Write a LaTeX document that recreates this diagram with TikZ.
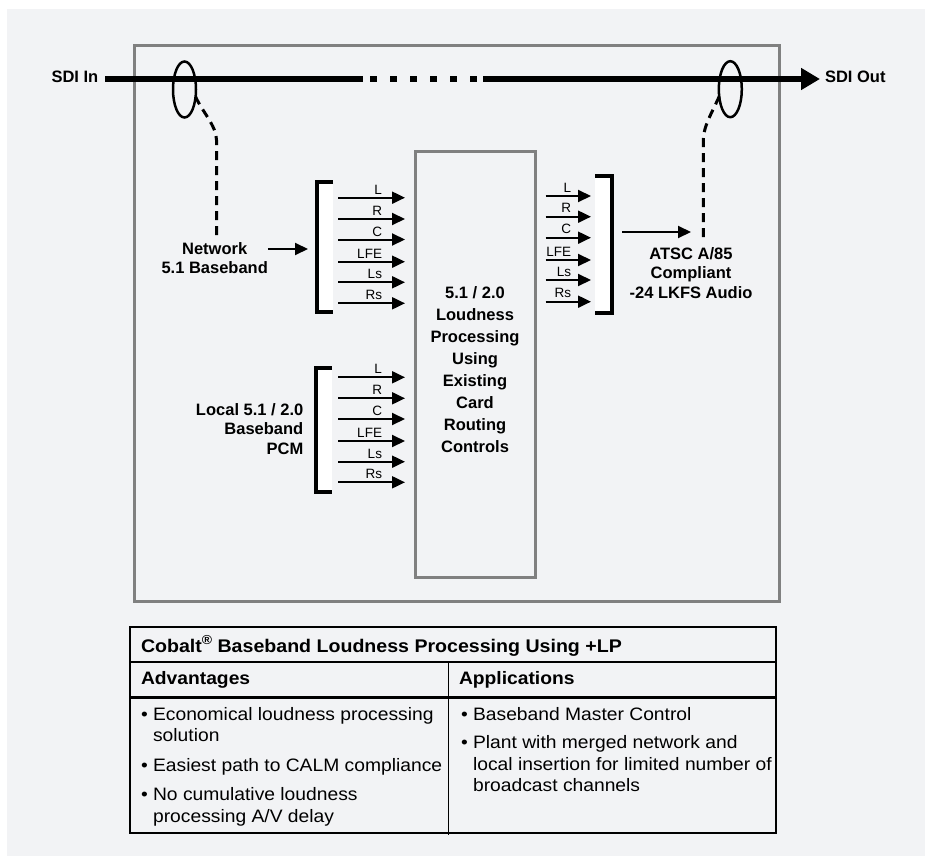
\documentclass[tikz,border=0pt]{standalone}
\usepackage{fontspec}
\setmainfont{Liberation Sans}
\newfontfamily\tblfont[FakeStretch=1.07]{Liberation Sans}
\usetikzlibrary{arrows.meta,shapes.geometric,calc}
\definecolor{bg}{RGB}{242,243,245}
\definecolor{boxgray}{RGB}{128,128,128}
\begin{document}
\begin{tikzpicture}[x=1pt,y=-1pt,
  lbl/.style={font=\fontsize{16.5}{19.5}\selectfont\bfseries, inner sep=0pt, outer sep=0pt},
  chlbl/.style={font=\fontsize{13.5}{14}\selectfont, inner sep=0pt, outer sep=0pt, anchor=base east},
  charrow/.style={line width=2pt, -{Triangle[length=13pt,width=12pt]}},
  bracketline/.style={line width=4pt},
  bracketfill/.style={fill=white, inner sep=0pt, outer sep=0pt, anchor=north west},
  sdiline/.style={line width=6pt},
  dashconn/.style={line width=3pt, dash pattern=on 9pt off 6pt},
  tap/.style={ellipse, draw, line width=2.5pt, minimum width=23pt, minimum height=56pt, inner sep=0pt, outer sep=0pt},
  grayframe/.style={draw=boxgray, line width=3pt, inner sep=0pt, outer sep=0pt, anchor=north west},
  tbltext/.style={font=\tblfont\fontsize{18}{21.5}\selectfont, inner sep=0pt, outer sep=0pt, align=left, anchor=north west},
  tblhead/.style={font=\tblfont\fontsize{18}{21.5}\selectfont\bfseries, inner sep=0pt, outer sep=0pt, anchor=base west},
  tblrule/.style={line width=1.3pt},
]
\useasboundingbox (0,0) rectangle (925,856);
\fill[bg] (7,9) rectangle (925,856);

% frames
\node[grayframe, minimum width=645pt, minimum height=556pt] (card) at (134.7,45.3) {};
\node[grayframe, minimum width=120pt, minimum height=426pt] (proc) at (415.5,151) {};
\node[lbl, align=center, anchor=north, font=\fontsize{16.5}{22}\selectfont\bfseries] (proctxt) at (475,284)
  {\rule{0pt}{14pt}5.1 / 2.0\\Loudness\\Processing\\Using\\Existing\\Card\\Routing\\Controls};

% SDI line
\node[lbl, anchor=base east] (sdiin) at (98.3,83) {SDI In};
\node[lbl, anchor=base west] (sdiout) at (825,83) {SDI Out};
\coordinate (sdiA) at ($(sdiin.east|-0,79)+(7,0)$);
\coordinate (sdiB) at (363,79);
\coordinate (sdiC) at (370,79);
\coordinate (sdiD) at (477,79);
\coordinate (sdiE) at (483,79);
\coordinate (sdiF) at ($(sdiout.west|-0,79)+(-5,0)$);
\draw[sdiline] (sdiA) -- (sdiB);
\draw[sdiline, dash pattern=on 7pt off 13pt] (sdiC) -- (sdiD);
\draw[sdiline, -{Triangle[length=19pt,width=21pt]}] (sdiE) -- (sdiF);
\node[tap] (tapL) at (184.5,89.5) {};
\node[tap] (tapR) at (730.3,89.2) {};

% labels
\node[lbl, align=center, anchor=north] (netlbl) at (214.7,240) {\rule{0pt}{14pt}Network\\5.1 Baseband};
\node[lbl, align=center, anchor=north] (atsc) at (691,245) {\rule{0pt}{14pt}ATSC A/85\\Compliant\\-24 LKFS Audio};
\node[lbl, align=right, anchor=north east] (loclbl) at (303.3,401) {\rule{0pt}{14pt}Local 5.1 / 2.0\\Baseband\\PCM};

% brackets
\node[bracketfill, minimum width=16pt, minimum height=130pt] (netbr) at (317,182) {};
\draw[bracketline] (netbr.north east) -- (netbr.north west) -- (netbr.south west) -- (netbr.south east);
\node[bracketfill, minimum width=16pt, minimum height=124pt] (locbr) at (316,368) {};
\draw[bracketline] (locbr.north east) -- (locbr.north west) -- (locbr.south west) -- (locbr.south east);
\node[bracketfill, minimum width=16.5pt, minimum height=137pt] (outbr) at (595,176) {};
\draw[bracketline] (outbr.north west) -- (outbr.north east) -- (outbr.south east) -- (outbr.south west);

% channel arrows
\foreach \y/\t in {197.7/L,219/R,239.5/C,261.7/LFE,282.3/Ls,303.3/Rs}{
  \draw[charrow] ($(netbr.east|-0,\y)+(5,0)$) -- ($(proc.west|-0,\y)+(-10.5,0)$);
  \node[chlbl] (net\t) at ($(netbr.east|-0,\y)+(49,-3.5)$) {\t};
}
\foreach \y/\t in {377.3/L,398.3/R,419/C,441/LFE,461.7/Ls,482.3/Rs}{
  \draw[charrow] ($(locbr.east|-0,\y)+(6,0)$) -- ($(proc.west|-0,\y)+(-10.5,0)$);
  \node[chlbl] (loc\t) at ($(locbr.east|-0,\y)+(50,-3.5)$) {\t};
}
\foreach \y/\t in {196/L,216.7/R,237.7/C,260/LFE,280/Ls,301.7/Rs}{
  \draw[charrow] ($(proc.east|-0,\y)+(10,0)$) -- ($(outbr.west|-0,\y)+(-4,0)$);
  \node[chlbl] (out\t) at ($(proc.east|-0,\y)+(35.7,-4)$) {\t};
}

% single arrows
\draw[charrow] (netlbl.east|-0,249) -- ($(netbr.west|-0,249)+(-9,0)$);
\draw[charrow] ($(outbr.east|-0,232)+(10.5,0)$) -- (atsc.north|-0,232);

% dashed connectors
\draw[dashconn] ($(netlbl.north)+(1.8,-5)$) -- ++(0,-95) .. controls ++(0,-14) and ($(tapL.-33)+(6,14)$) .. (tapL.-33);
\draw[dashconn] ($(atsc.north)+(12.3,-8)$) -- ++(0,-97) .. controls ++(0,-14) and ($(tapR.-147)+(-6,14)$) .. (tapR.-147);

% table
\node[draw, tblrule, minimum width=646pt, minimum height=206pt, inner sep=0pt, outer sep=0pt, anchor=north west] (tbl) at (130,627) {};
\draw[tblrule] (tbl.west|-0,662) -- (tbl.east|-0,662);
\draw[line width=3pt] (tbl.west|-0,697) -- (tbl.east|-0,697);
\draw[line width=1pt] (448.5,662) -- (448.5,835);
\node[tblhead, font=\tblfont\fontsize{18.3}{21.5}\selectfont\bfseries] (title) at (141,652) {Cobalt\raisebox{7.5pt}{\fontsize{13}{12}\selectfont ®} Baseband Loudness Processing Using +LP};
\node[tblhead] (advh) at (141,684) {Advantages};
\node[tblhead] (apph) at (459,684) {Applications};
\node[tbltext] (adv) at (141,705) {\rule{0pt}{15pt}• Economical loudness processing\\\hphantom{• }solution\\[8pt]• Easiest path to CALM compliance\\[8pt]• No cumulative loudness\\\hphantom{• }processing A/V delay};
\node[tbltext] (app) at (461,705) {\rule{0pt}{15pt}• Baseband Master Control\\[7pt]• Plant with merged network and\\\hphantom{• }local insertion for limited number of\\\hphantom{• }broadcast channels};
\end{tikzpicture}
\end{document}
